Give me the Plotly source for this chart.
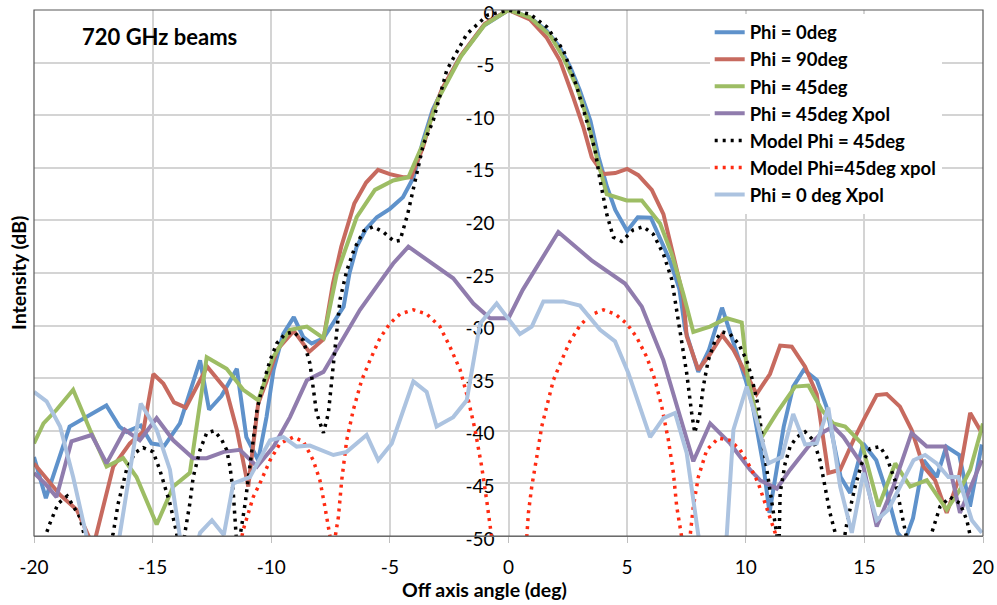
import plotly.graph_objects as go

# ---- measured beam cuts (angle in deg, intensity in dB) ----
phi0_x = [-20, -19.5, -18.5, -17.5, -16.95, -16.4, -16.1, -15.5, -15.05, -14.5, -13.85, -13.0, -12.62,
          -12.1, -11.45, -11.05, -10.55, -10.2, -9.9, -9.5, -9.05, -8.65, -8.3, -7.8, -7.4, -6.95, -6.7,
          -6.4, -6.0, -5.55, -5.0, -4.45, -4.0, -3.6, -3.2, -2.75, -2.05, -1.05, 0,
          0.9, 1.6, 2.15, 2.6, 3.0, 3.45, 3.8, 4.15, 4.5, 5.0, 5.45, 6.0, 6.4, 6.8, 7.2, 7.45, 8.0, 8.45,
          9.0, 9.4, 10.0, 10.3, 10.75, 11.0, 11.3, 11.6, 12.0, 12.45, 13.0, 13.4, 14.0, 14.4, 14.95, 15.5,
          15.95, 16.4, 16.7, 17.05, 17.5, 18.05, 18.45, 19.0, 19.45, 19.95]
phi0_y = [-42.5, -46.4, -39.6, -38.3, -37.6, -39.6, -40.1, -39.5, -41.2, -41.4, -39.3, -33.3, -38.0,
          -36.7, -34.1, -40.6, -42.8, -38.7, -34.2, -30.8, -29.2, -31.1, -31.7, -31.2, -29.8, -28.2, -25.0,
          -22.5, -20.8, -19.7, -18.9, -17.8, -15.9, -12.4, -9.5, -7.4, -4.5, -1.5, 0,
          -0.7, -1.95, -3.5, -5.4, -7.6, -10.5, -14.0, -16.8, -19.0, -21.0, -19.7, -19.75, -21.7, -23.8,
          -26.5, -30.4, -34.4, -32.3, -28.3, -31.1, -35.2, -37.7, -43.4, -47.8, -43.4, -39.6, -35.8, -34.2,
          -35.2, -37.7, -44.4, -45.9, -41.2, -42.8, -45.9, -49.7, -50.5, -48.3, -42.8, -44.4, -41.5, -42.3,
          -47.2, -41.3]

phi90_x = [-20, -18.9, -18.2, -17.78, -17.5, -16.66, -15.96, -15.4, -14.97, -14.55, -14.1, -13.6, -12.7,
           -11.9, -11.45, -10.97, -10.55, -10.2, -9.75, -9.05, -8.4, -7.8, -7.4, -7.05, -6.5, -6.0, -5.5,
           -5.0, -4.45, -4.1, -3.6, -3.2, -2.8, -2.0, -1.0, 0,
           0.9, 1.6, 2.17, 2.73, 3.15, 3.51, 4.0, 4.5, 5.0, 5.47, 6.04, 6.53, 6.95, 7.37, 7.51, 8.0, 8.5,
           9.0, 9.48, 10.0, 10.46, 11.02, 11.45, 11.94, 12.5, 12.99, 13.48, 13.98, 14.54, 15.03, 15.52,
           15.94, 16.5, 16.99, 17.49, 17.98, 18.47, 18.96, 19.46, 19.95]
phi90_y = [-43.1, -46.1, -47.5, -49.7, -51.0, -43.4, -41.2, -40.1, -34.6, -35.5, -37.3, -37.8, -33.9,
           -36.1, -39.9, -45.3, -37.4, -35.3, -32.3, -30.5, -32.5, -31.3, -26.0, -22.5, -18.4, -16.4, -15.2,
           -15.6, -15.9, -15.9, -13.0, -9.8, -7.5, -4.3, -1.3, 0,
           -0.9, -2.6, -4.8, -8.3, -11.1, -14.0, -15.6, -15.5, -15.1, -15.7, -17.1, -19.4, -23.2, -27.3,
           -31.0, -34.2, -32.7, -30.9, -32.3, -34.5, -36.5, -34.6, -31.9, -32.0, -33.9, -36.5, -44.0, -43.7,
           -40.9, -38.7, -36.6, -36.5, -37.7, -39.9, -43.4, -44.7, -47.8, -44.7, -38.3, -40.2]

phi45_x = [-20, -19.6, -19.05, -18.35, -17.64, -16.94, -16.24, -15.68, -14.83, -14.13, -13.43, -12.72,
           -11.88, -11.18, -10.55, -9.92, -9.21, -8.5, -7.8, -7.24, -6.4, -5.63, -4.86, -4.22, -3.6, -3.0,
           -2.0, -1.0, 0,
           0.9, 1.75, 2.31, 2.88, 3.3, 3.72, 4.14, 4.98, 5.62, 6.39, 6.88, 7.37, 7.79, 8.49, 9.2, 9.83,
           10.1, 10.67, 11.31, 12.08, 12.64, 13.2, 13.69, 14.19, 14.89, 15.6, 16.3, 16.93, 17.63, 18.47,
           19.03, 19.46, 20.0]
phi45_y = [-41.2, -39.3, -38.0, -36.1, -39.9, -43.4, -42.6, -44.4, -48.9, -45.3, -44.0, -33.0,
           -34.1, -36.1, -37.1, -33.0, -30.4, -30.1, -31.2, -25.1, -19.7, -17.1, -16.2, -15.9, -12.7, -8.6,
           -4.4, -1.4, 0,
           -0.7, -2.4, -4.5, -7.3, -10.2, -14.0, -17.5, -18.1, -18.1, -20.3, -23.2, -27.0, -30.6, -30.1,
           -29.3, -29.7, -35.2, -40.6, -38.3, -35.8, -35.7, -38.0, -39.3, -39.6, -41.2, -47.2, -43.1, -45.3,
           -44.7, -47.5, -45.6, -43.7, -39.3]

phi45_xpol_x = [-20, -19.54, -19.05, -18.42, -17.57, -16.94, -16.17, -15.54, -14.83, -14.13, -13.29,
                -12.72, -12.0, -11.32, -10.6, -9.9, -9.21, -8.5, -7.8, -7.1, -6.26, -5.56, -4.86, -4.22,
                -3.31, -2.33, -1.48, -0.78, 0.0, 0.6, 2.1, 3.5, 4.91, 5.62, 6.53, 7.09, 7.79, 8.5, 9.34,
                10.18, 10.6, 11.31, 11.87, 12.64, 13.2, 13.69, 14.12, 14.96, 15.52, 16.22, 16.99, 17.63,
                18.4, 19.03, 19.95]
phi45_xpol_y = [-44.0, -45.0, -46.3, -41.0, -40.4, -43.1, -39.9, -40.9, -38.8, -40.9, -42.6,
                -42.6, -42.0, -41.8, -43.4, -41.5, -38.7, -35.2, -34.4, -31.7, -28.5, -26.3, -24.1, -22.5,
                -23.9, -25.5, -27.9, -29.3, -29.3, -26.6, -21.1, -23.8, -26.0, -28.2, -33.3, -37.7, -42.9,
                -39.3, -41.2, -43.7, -44.7, -45.5, -43.7, -41.5, -40.2, -39.6, -40.6, -43.4, -49.1, -45.3,
                -40.2, -41.5, -41.5, -47.8, -42.8]

phi0_xpol_x = [-20, -19.47, -18.9, -18.35, -17.78, -17.0, -16.4, -15.5, -14.83, -14.27, -13.85, -13.4,
               -13.0, -12.5, -12.0, -11.6, -10.9, -10.05, -9.49, -8.93, -8.37, -7.38, -6.82, -5.98, -5.49,
               -4.92, -4.01, -3.45, -3.03, -2.33, -1.76, -1.2, -0.5, 0.48, 0.98, 1.47, 2.31, 3.01, 3.86,
               4.49, 5.05, 5.97, 6.53, 7.02, 7.51, 8.0, 8.6, 9.2, 9.48, 10.04, 10.46, 10.95, 11.52, 12.0,
               12.5, 12.99, 13.48, 13.98, 14.47, 14.96, 15.52, 16.01, 16.64, 17.07, 17.56, 18.05, 18.54,
               18.96, 19.53, 19.95]
phi0_xpol_y = [-36.3, -37.2, -39.6, -44.4, -50.1, -56.0, -50.1, -37.4, -39.9, -43.7, -50.1, -53.0,
               -49.7, -48.5, -49.9, -45.0, -44.4, -40.9, -40.6, -41.5, -41.4, -42.3, -42.0, -40.4, -42.8,
               -41.2, -35.3, -36.3, -39.6, -38.7, -37.1, -29.8, -27.9, -30.8, -30.1, -27.7, -27.7, -28.1,
               -30.4, -31.5, -34.5, -40.6, -38.8, -38.3, -42.1, -49.9, -56.0, -49.9, -39.9, -35.8, -39.0,
               -43.1, -42.5, -38.4, -41.3, -41.2, -37.8, -45.3, -49.7, -44.0, -48.5, -47.5, -44.7, -42.8,
               -42.3, -43.1, -44.4, -44.4, -48.5, -49.7]

# ---- modelled beam cuts ----
model45_x = [-20, -19.6, -19.33, -18.98, -18.6, -18.07, -17.86, -17.3, -16.66, -16.45, -16.1, -15.75,
             -15.4, -14.98, -14.7, -14.27, -13.99, -13.82, -13.64, -13.43, -13.29, -13.0, -12.72, -12.4,
             -12.1, -11.88, -11.74, -11.6, -11.42, -11.32, -11.1, -10.9, -10.6, -10.34, -10.05, -9.77,
             -9.42, -9.07, -8.65, -8.37, -8.23, -8.09, -7.8, -7.59, -7.45, -7.24, -7.1, -6.82, -6.5,
             -6.1, -5.7, -5.28, -4.82, -4.57, -4.25, -3.9, -3.59, -3.17, -2.6, -1.76, -0.9, 0,
             0.91, 1.61, 2.31, 2.88, 3.3, 3.65, 3.86, 4.14, 4.42, 4.77, 5.26, 5.68, 6.1, 6.53, 6.88,
             7.09, 7.3, 7.51, 7.72, 7.85, 8.07, 8.21, 8.42, 8.71, 8.99, 9.34, 9.69, 10.04, 10.25, 10.53,
             10.74, 11.02, 11.31, 11.38, 11.45, 11.66, 11.87, 12.15, 12.5, 12.85, 13.13, 13.34, 13.55,
             13.77, 13.95, 14.26, 14.61, 14.89, 15.24, 15.66, 15.94, 16.29, 16.5, 16.72, 17.3, 17.84,
             18.19, 18.61, 19.03, 19.32, 19.46, 19.75, 20]
model45_y = [-54.0, -50.5, -48.8, -46.9, -46.2, -48.2, -50.1, -56.0, -49.7, -46.9, -43.7, -42.1,
             -41.6, -42.0, -43.7, -46.9, -49.7, -53.0, -49.7, -46.9, -44.4, -41.8, -40.2, -40.0,
             -40.8, -41.8, -43.4, -45.9, -52.0, -50.1, -46.9, -43.1, -38.0, -35.5, -33.3, -31.7,
             -30.8, -30.6, -31.4, -33.6, -36.1, -38.3, -40.2, -38.3, -35.2, -31.0, -27.5, -24.8, -22.7,
             -21.0, -20.6, -21.1, -22.0, -21.9, -19.4, -15.9, -12.8, -10.5, -5.7, -2.3, -0.5, 0,
             -0.4, -1.6, -3.8, -7.3, -10.5, -13.3, -16.2, -19.4, -21.6, -22.0, -20.9, -20.6, -21.3, -23.2,
             -25.6, -28.5, -31.4, -34.5, -38.3, -40.2, -38.3, -35.8, -33.3, -31.4, -30.6, -30.8, -31.7,
             -33.3, -34.9, -37.7, -41.5, -45.9, -49.9, -53.0, -45.9, -43.1, -41.5, -40.6, -40.1, -40.9,
             -42.8, -45.3, -47.8, -49.7, -53.0, -48.8, -45.3, -43.1, -41.7, -41.5, -42.5, -44.7, -47.2,
             -49.7, -56.0, -49.7, -47.2, -46.3, -46.9, -48.5, -49.9, -53.0, -52.0]

model45_xpol_x = [-11.5, -11.18, -10.76, -10.48, -10.05, -9.63, -9.07, -8.65, -8.23, -7.95, -7.74,
                  -7.59, -7.45, -7.3, -7.17, -7.03, -6.82, -6.54, -6.19, -5.84, -5.42, -5.0, -4.57,
                  -4.01, -3.45, -2.89, -2.47, -2.04, -1.69, -1.41, -1.13, -0.92, -0.78, -0.5, 0,
                  0.5, 0.77, 0.84, 0.98, 1.19, 1.4, 1.61, 1.89, 2.24, 2.59, 3.01, 3.44, 4.0, 4.49, 4.98,
                  5.4, 5.83, 6.18, 6.46, 6.74, 6.95, 7.09, 7.3, 7.47, 7.65, 7.79, 8.0, 8.36, 8.85, 9.34,
                  9.76, 10.25, 10.53, 10.81, 11.02, 11.24, 11.4]
model45_xpol_y = [-53.0, -49.4, -46.3, -45.0, -42.8, -41.2, -40.6, -41.0, -42.8, -44.7, -47.2,
                  -49.1, -51.0, -50.0, -48.2, -44.7, -40.9, -38.0, -35.2, -33.3, -31.2, -29.8, -28.9,
                  -28.5, -28.9, -30.1, -32.0, -34.2, -37.1, -39.9, -43.4, -46.6, -49.1, -55.0, -62.0,
                  -55.0, -50.1, -47.8, -45.3, -42.5, -39.6, -37.7, -35.2, -33.3, -31.5, -30.0, -29.0, -28.5,
                  -28.9, -29.8, -31.1, -33.0, -35.2, -37.7, -40.9, -44.0, -47.2, -50.1, -52.0, -50.1, -47.2,
                  -44.4, -41.8, -40.7, -40.9, -41.8, -43.7, -45.0, -46.9, -48.2, -49.7, -53.0]

x_ticks = [-20, -15, -10, -5, 0, 5, 10, 15, 20]
y_ticks = [0, -5, -10, -15, -20, -25, -30, -35, -40, -45, -50]

FONT = "Lato"
DOTS = "3px,5px"

series = [
    ("Phi = 0deg", phi0_x, phi0_y, "#5F92CB", "solid"),
    ("Phi = 90deg", phi90_x, phi90_y, "#C76A5F", "solid"),
    ("Phi = 45deg", phi45_x, phi45_y, "#9DBD64", "solid"),
    ("Phi = 45deg Xpol", phi45_xpol_x, phi45_xpol_y, "#907CAD", "solid"),
    ("Model Phi = 45deg", model45_x, model45_y, "#000000", DOTS),
    ("Model Phi=45deg xpol", model45_xpol_x, model45_xpol_y, "#FF2B12", DOTS),
    ("Phi = 0 deg Xpol", phi0_xpol_x, phi0_xpol_y, "#ACC3E0", "solid"),
]

fig = go.Figure()
for name, xs, ys, color, dash in series:
    fig.add_trace(go.Scatter(
        x=xs, y=ys, name=name, mode="lines",
        line=dict(color=color, width=4 if dash == "solid" else 3.5, dash=dash),
    ))

fig.update_layout(
    width=997, height=605,
    margin=dict(l=34, r=14, t=10, b=69, autoexpand=False),
    paper_bgcolor="white", plot_bgcolor="white",
    font=dict(family=FONT, color="black"),
    showlegend=True,
    legend=dict(
        x=0.712, y=0.993, xanchor="left", yanchor="top",
        bgcolor="white", borderwidth=0,
        font=dict(family=FONT, size=18.5, color="black", weight="bold"),
        tracegroupgap=0,
    ),
    xaxis=dict(
        range=[-20, 20], tickvals=x_ticks, ticktext=[str(v) for v in x_ticks],
        showgrid=True, gridcolor="#D4D4D4", gridwidth=1.5, zeroline=False,
        showline=True, linecolor="#7F7F7F", linewidth=1.2,
        ticks="outside", ticklen=6, tickcolor="#BFBFBF",
        tickfont=dict(family=FONT, size=19, color="black"),
        ticklabelstandoff=8, automargin=False,
    ),
    yaxis=dict(
        range=[-50, 0], tickvals=y_ticks, ticktext=[str(v) for v in y_ticks],
        anchor="free", position=0.5,
        showgrid=True, gridcolor="#D4D4D4", gridwidth=1.5, zeroline=False,
        showline=False, ticks="",
        tickfont=dict(family=FONT, size=19, color="black"),
        ticklabelstandoff=14, ticklabelshift=3, ticklabeloverflow="allow",
        layer="below traces", automargin=False,
    ),
    shapes=[dict(type="rect", xref="paper", yref="paper", x0=0, y0=0, x1=1, y1=1,
                 line=dict(color="#595959", width=1.2), layer="above")],
    annotations=[
        dict(text="<b>720 GHz beams</b>", xref="paper", yref="paper", x=0.0485, y=0.95,
             xanchor="left", yanchor="middle", showarrow=False,
             font=dict(family=FONT, size=22, color="black")),
        dict(text="<b>Off axis angle (deg)</b>", xref="paper", yref="paper", x=0.475, y=-0.1026,
             xanchor="center", yanchor="middle", showarrow=False,
             font=dict(family=FONT, size=19.5, color="black")),
        dict(text="<b>Intensity (dB)</b>", xref="paper", yref="paper", x=-0.0169, y=0.5,
             xanchor="center", yanchor="middle", textangle=-90, showarrow=False,
             font=dict(family=FONT, size=19.5, color="black")),
    ],
)

fig.write_html("out.html")
